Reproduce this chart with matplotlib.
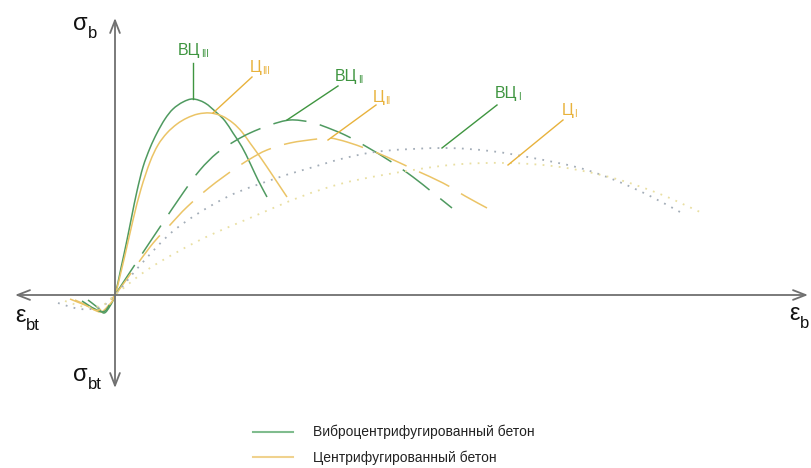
import matplotlib
matplotlib.use('Agg')
import numpy as np
import matplotlib.pyplot as plt
from matplotlib.lines import Line2D
from matplotlib.path import Path
from matplotlib.patches import PathPatch

plt.rcParams['font.family'] = ['Liberation Sans', 'DejaVu Sans']

# strain / stress pairs for each concrete, tension branch first (negative values)
vc3_eps = [-27, -18, -11, -5, 0, 6, 12, 17, 22, 28, 35, 42, 50, 58, 68, 78, 90, 102, 110, 118, 127, 135, 143, 152]
vc3_sig = [-5, -12, -18, -11, 0, 27, 55, 80, 104, 128, 147, 162, 176, 186, 193, 196, 192, 182, 174, 162, 148, 132, 115, 98]

c3_eps = [-40, -27, -15, -7, 0, 10, 18, 26, 35, 43, 52, 62, 72, 83, 95, 107, 118, 127, 135, 143, 152, 162, 172]
c3_sig = [-5, -11, -17, -11, 0, 40, 75, 106, 133, 150, 162, 171, 177, 181, 182, 179, 172, 163, 152, 141, 128, 113, 98]

vc2_eps = [-33, -20, -10, 0, 25, 45, 68, 85, 102, 120, 135, 155, 175, 195, 208, 230, 252, 275, 298, 317, 337]
vc2_sig = [-6, -14, -16, 0, 38, 68, 102, 125, 142, 154, 162, 170, 175, 173, 169, 160, 148, 134, 118, 103, 87]

c2_eps = [-45, -30, -16, 0, 35, 55, 72, 95, 118, 135, 152, 175, 202, 215, 232, 252, 272, 300, 328, 350, 372]
c2_sig = [-4, -10, -15, 0, 48, 70, 88, 108, 125, 136, 145, 152, 156, 157, 153, 146, 138, 125, 112, 99, 87]

vc1_eps = [-57, -35, -15, 0, 28, 62, 112, 162, 195, 230, 268, 328, 375, 418, 465, 502, 535, 565]
vc1_sig = [-8, -14, -12, 0, 33, 67, 98, 117, 127, 137, 144, 147, 144, 137, 127, 114, 99, 83]

c1_eps = [-50, -30, -12, 0, 35, 85, 135, 185, 225, 268, 335, 392, 445, 498, 545, 585]
c1_sig = [-6, -12, -10, 0, 27, 55, 77, 98, 111, 120, 130, 132, 128, 117, 101, 83]

legend_labels = ['Виброцентрифугированный бетон', 'Центрифугированный бетон']

green = '#4f9a60'
yellow = '#ebc466'
green_txt = '#3f9540'
yellow_txt = '#e8b23c'
axis_col = '#707070'

fig = plt.figure(figsize=(8.11, 4.68), dpi=100)
ax = fig.add_axes([0, 0, 1, 1])
ax.set_xlim(-115, 696)
ax.set_ylim(-173, 295)
ax.axis('off')

# coordinate axes with open arrowheads
arrow = dict(arrowstyle='->,head_length=0.9,head_width=0.35', color=axis_col, lw=1.3,
             shrinkA=0, shrinkB=0)
ax.annotate('', xy=(693, 0), xytext=(0, 0), arrowprops=arrow)
ax.annotate('', xy=(-100, 0), xytext=(0, 0), arrowprops=arrow)
ax.annotate('', xy=(0, 277), xytext=(0, 0), arrowprops=arrow)
ax.annotate('', xy=(0, -93), xytext=(0, 0), arrowprops=arrow)


def curve(xs, ys, **kw):
    # bezier path passing through the given points (catmull-rom handles)
    pts = np.column_stack([xs, ys]).astype(float)
    verts = [pts[0]]
    codes = [Path.MOVETO]
    n = len(pts)
    for i in range(n - 1):
        p0 = pts[max(i - 1, 0)]
        p1, p2 = pts[i], pts[i + 1]
        p3 = pts[min(i + 2, n - 1)]
        verts += [p1 + (p2 - p0) / 6, p2 - (p3 - p1) / 6, p2]
        codes += [Path.CURVE4] * 3
    ax.add_patch(PathPatch(Path(verts, codes), fill=False, **kw))


curve(vc3_eps, vc3_sig, edgecolor=green, lw=1.1)
curve(c3_eps, c3_sig, edgecolor=yellow, lw=1.1)
curve(vc2_eps, vc2_sig, edgecolor=green, lw=1.1, linestyle=(0, (22, 9)))
curve(c2_eps, c2_sig, edgecolor=yellow, lw=1.1, linestyle=(0, (22, 9)))
curve(vc1_eps, vc1_sig, edgecolor='#a3adb8', lw=1.3, linestyle=(0, (1, 3.5)))
curve(c1_eps, c1_sig, edgecolor='#e9dfa2', lw=1.3, linestyle=(0, (1, 3.5)))


def sub_text(x, y, main, sub, size, sub_size, color, drop=2):
    t = ax.text(x, y, main, fontsize=size, color=color, ha='left', va='baseline')
    ax.annotate(sub, xy=(1, 0), xycoords=t, xytext=(0.5, -drop), textcoords='offset points',
                fontsize=sub_size, color=color, ha='left', va='bottom')


# curve labels with leader lines
labels = [
    ('ВЦ', 'III', green_txt, (78, 232), (78, 196), (63, 240)),
    ('Ц', 'III', yellow_txt, (137, 218), (98, 182), (135, 223)),
    ('ВЦ', 'II', green_txt, (223, 209), (172, 175), (220, 214)),
    ('Ц', 'II', yellow_txt, (261, 190), (213, 155), (258, 193)),
    ('ВЦ', 'I', green_txt, (382, 190), (327, 147), (380, 197)),
    ('Ц', 'I', yellow_txt, (448, 175), (393, 130), (447, 180)),
]
for main, sub, col, p0, p1, tpos in labels:
    ax.plot([p0[0], p1[0]], [p0[1], p1[1]], color=col, lw=1.0)
    sub_text(tpos[0], tpos[1], main, sub, 11.5, 7, col, drop=1)

# axis names
sub_text(-42, 265, 'σ', 'b', 17, 12, '#111111', drop=4)
sub_text(-100, -27, 'ε', 'bt', 17, 12, '#111111', drop=4)
sub_text(-42, -86, 'σ', 'bt', 17, 12, '#111111', drop=4)
sub_text(674, -25, 'ε', 'b', 17, 12, '#111111', drop=4)

handles = [Line2D([], [], color='#80bc8e', lw=1.5), Line2D([], [], color='#f0d28e', lw=1.5)]
ax.legend(handles, legend_labels, loc='center left', bbox_to_anchor=(253 / 811, 1 - 445 / 468),
          frameon=False, fontsize=10, handlelength=2.9, handletextpad=1.45, labelspacing=0.8,
          borderpad=0, borderaxespad=0, labelcolor='#222222')

fig.savefig('out.png', dpi=100)
